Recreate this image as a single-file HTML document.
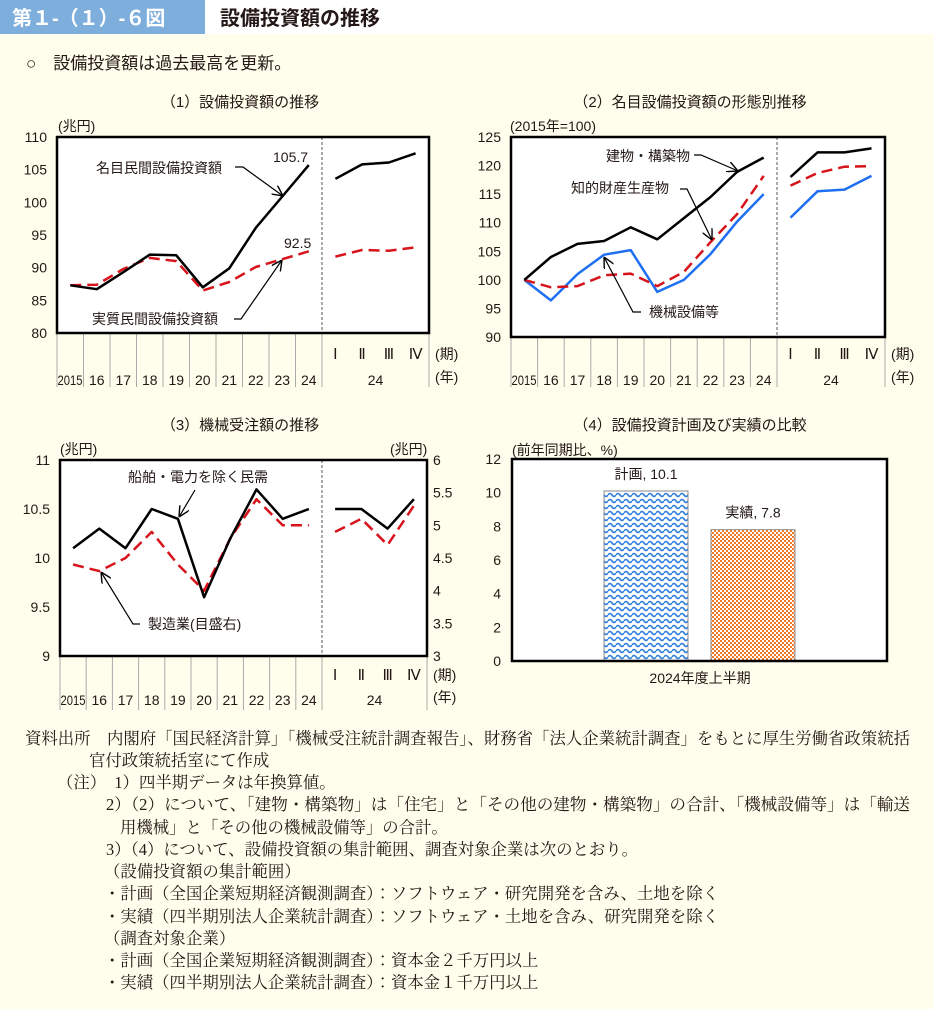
<!DOCTYPE html>
<html><head><meta charset="utf-8">
<style>
html,body{margin:0;padding:0;background:#fffdeb;}
svg{display:block;font-family:"Liberation Sans","Noto Sans CJK JP",sans-serif;}
.n{font-family:"Liberation Serif","Noto Serif CJK JP",serif;font-size:16.4px;fill:#231815;}
.t{font-size:14px;fill:#231815;}
.c{font-size:15px;fill:#231815;}
</style></head>
<body>
<svg id="s" width="933" height="1009" viewBox="0 0 933 1009" xmlns="http://www.w3.org/2000/svg">
<defs>
<pattern id="wave" width="8" height="6" patternUnits="userSpaceOnUse">
<rect width="8" height="6" fill="#ffffff"/>
<path d="M0 3 Q2 0 4 3 T8 3" fill="none" stroke="#2b7de0" stroke-width="1.6"/>
</pattern>
<pattern id="check" width="4" height="4" patternUnits="userSpaceOnUse">
<rect width="4" height="4" fill="#ffffff"/>
<rect width="2" height="2" fill="#f07a28"/><rect x="2" y="2" width="2" height="2" fill="#f07a28"/>
</pattern>
<marker id="ar" viewBox="0 0 10 10" refX="10" refY="5" markerWidth="9" markerHeight="9" orient="auto"><path d="M0 0 L10 5 L0 10" fill="none" stroke="#000" stroke-width="1.3"/></marker>
</defs>
<rect x="0" y="0" width="933" height="1009" fill="#fffdeb"/>
<rect x="0" y="0" width="205" height="34" fill="#7eaedc"/>
<rect x="205" y="0" width="728" height="34" fill="#ffffff"/>
<text x="12" y="25" font-size="20" font-weight="bold" fill="#ffffff">第１-（１）-６図</text>
<text x="220" y="25" font-size="20" font-weight="bold" fill="#231815">設備投資額の推移</text>
<text x="26" y="69" font-size="17" fill="#231815">○　設備投資額は過去最高を更新。</text>

<text x="240" y="107" text-anchor="middle" class="c">（1）設備投資額の推移</text>
<text x="690" y="107" text-anchor="middle" class="c">（2）名目設備投資額の形態別推移</text>
<text x="240" y="430" text-anchor="middle" class="c">（3）機械受注額の推移</text>
<text x="690" y="430" text-anchor="middle" class="c">（4）設備投資計画及び実績の比較</text>

<g id="g1"></g><g id="g2"></g><g id="g3"></g><g id="g4"></g>

<g class="n">
<text x="25" y="744" textLength="885" lengthAdjust="spacingAndGlyphs">資料出所　内閣府「国民経済計算」「機械受注統計調査報告」、財務省「法人企業統計調査」をもとに厚生労働省政策統括</text>
<text x="89" y="766">官付政策統括室にて作成</text>
<text x="57" y="788">（注）　1）四半期データは年換算値。</text>
<text x="106" y="810" textLength="804" lengthAdjust="spacingAndGlyphs">2）（2）について、「建物・構築物」は「住宅」と「その他の建物・構築物」の合計、「機械設備等」は「輸送</text>
<text x="120" y="833">用機械」と「その他の機械設備等」の合計。</text>
<text x="106" y="855">3）（4）について、設備投資額の集計範囲、調査対象企業は次のとおり。</text>
<text x="104" y="877">（設備投資額の集計範囲）</text>
<text x="104" y="899">・計画（全国企業短期経済観測調査）：ソフトウェア・研究開発を含み、土地を除く</text>
<text x="104" y="922">・実績（四半期別法人企業統計調査）：ソフトウェア・土地を含み、研究開発を除く</text>
<text x="104" y="944">（調査対象企業）</text>
<text x="104" y="966">・計画（全国企業短期経済観測調査）：資本金２千万円以上</text>
<text x="104" y="988">・実績（四半期別法人企業統計調査）：資本金１千万円以上</text>
</g>
</svg>
<script>
const years = ['2015','16','17','18','19','20','21','22','23','24'];
const quarters = ['Ⅰ','Ⅱ','Ⅲ','Ⅳ'];
// chart 1
const c1Nominal = [87.3,86.7,89.3,92.0,91.9,87.0,89.9,96.1,100.9,105.7];
const c1NominalQ = [103.6,105.8,106.1,107.5];
const c1Real = [87.3,87.4,89.8,91.5,91.0,86.5,87.8,90.1,91.3,92.5];
const c1RealQ = [91.7,92.7,92.6,93.1];
const c1Ticks = [80,85,90,95,100,105,110];
// chart 2
const c2Build = [100,104.0,106.3,106.8,109.2,107.1,110.8,114.5,118.9,121.4];
const c2BuildQ = [118.0,122.3,122.3,123.0];
const c2IP = [100,98.7,98.9,100.8,101.1,98.9,101.4,106.6,111.5,118.2];
const c2IPQ = [116.5,118.7,119.8,119.9];
const c2Mach = [100,96.4,101.0,104.4,105.2,97.9,100.0,104.5,110.2,115.0];
const c2MachQ = [110.9,115.5,115.8,118.2];
const c2Ticks = [90,95,100,105,110,115,120,125];
// chart 3
const c3Private = [10.1,10.3,10.1,10.5,10.4,9.6,10.2,10.7,10.4,10.5];
const c3PrivateQ = [10.5,10.5,10.3,10.6];
const c3Manu = [4.4,4.3,4.5,4.9,4.4,4.0,4.8,5.4,5.0,5.0];
const c3ManuQ = [4.9,5.1,4.7,5.3];
const c3TicksL = [9,9.5,10,10.5,11];
const c3TicksR = [3,3.5,4,4.5,5,5.5,6];
// chart 4
const c4Labels = ['計画','実績'];
const c4Values = [10.1,7.8];
const c4Ticks = [0,2,4,6,8,10,12];

const NS='http://www.w3.org/2000/svg';
function el(parent,tag,attrs,txt){const e=document.createElementNS(NS,tag);for(const k in attrs)e.setAttribute(k,attrs[k]);if(txt!==undefined)e.textContent=txt;parent.appendChild(e);return e;}

function frame(g,o){
  el(g,'rect',{x:o.L,y:o.T,width:o.R-o.L,height:o.B-o.T,fill:'#fff'});
  if(o.div){
    const d=el(g,'line',{x1:o.div,y1:o.T,x2:o.div,y2:o.B+(o.sepLen||0),stroke:'#555','stroke-width':1,'stroke-dasharray':'3 2'});
    
    
  }
}
function sepsAndLabels(g,o){
  const step=(o.div-o.L)/years.length;
  for(let i=0;i<=years.length;i++){
    el(g,'line',{x1:o.L+i*step,y1:o.B,x2:o.L+i*step,y2:o.B+o.sepLen,stroke:'#aaa','stroke-width':1});
  }
  el(g,'line',{x1:o.R,y1:o.B,x2:o.R,y2:o.B+o.sepLen,stroke:'#aaa','stroke-width':1});
  years.forEach((y,i)=>{
    const t=el(g,'text',{x:o.L+(i+0.5)*step,y:o.yRow,'text-anchor':'middle',class:'t','font-size':'14'},y);
    if(i===0){t.setAttribute('textLength','25');t.setAttribute('lengthAdjust','spacingAndGlyphs');t.setAttribute('x',o.L+0.5);t.setAttribute('text-anchor','start');}
    
    
  });
  const qs=(o.R-o.div)/4;
  quarters.forEach((q,i)=>{
    const t=el(g,'text',{x:o.div+(i+0.5)*qs,y:o.qRow,'text-anchor':'middle','font-family':'Liberation Serif,serif','font-size':'15',fill:'#231815'},q);
    
    
  });
  el(g,'text',{x:(o.div+o.R)/2,y:o.yRow,'text-anchor':'middle',class:'t'},'24');
  el(g,'text',{x:o.R+6,y:o.qRow,class:'t','font-size':'13'},'(期)');
  el(g,'text',{x:o.R+6,y:o.yRow-3,class:'t','font-size':'13'},'(年)');
}
function series(g,o,vals,qvals,yfn,style,name){
  const step=(o.div-o.L)/years.length, qs=(o.R-o.div)/4;
  const p1=vals.map((v,i)=>(o.L+(i+0.5)*step).toFixed(1)+','+yfn(v).toFixed(1)).join(' ');
  const p2=qvals.map((v,i)=>(o.div+(i+0.5)*qs).toFixed(1)+','+yfn(v).toFixed(1)).join(' ');
  [p1,p2].forEach((p,k)=>{
    const a=Object.assign({points:p,fill:'none','stroke-linejoin':'round'},style);
    const l=el(g,'polyline',a);
    
    
  });
}
function yTicks(g,ticks,yfn,x,anchor){
  ticks.forEach(v=>{
    const t=el(g,'text',{x:x,y:yfn(v)+5,'text-anchor':anchor,class:'t','font-size':'15'},String(v));
    
    
  });
}
function border(g,o){el(g,'rect',{x:o.L,y:o.T,width:o.R-o.L,height:o.B-o.T,fill:'none',stroke:'#000','stroke-width':2.5});}
function ann(g,x,y,txt,name,anchor){const t=el(g,'text',{x:x,y:y,class:'t','text-anchor':anchor||'start'},txt);return t;}
function arrow(g,x1,y1,x2,y2,x0){
  const pts=(x0!==undefined?x0+','+y1+' ':'')+x1+','+y1+' '+x2+','+y2;
  el(g,'polyline',{points:pts,fill:'none',stroke:'#000','stroke-width':1.2,'marker-end':'url(#ar)'});
}
const BLK={stroke:'#000','stroke-width':2.5};
const RED={stroke:'#d7141b','stroke-width':2.5,'stroke-dasharray':'11 6'};
const BLU={stroke:'#1f6ff2','stroke-width':2.5};

(function(){
  const g=document.getElementById('g1');
  
  
  const o={L:57,R:429,T:137,B:333,div:322,sepLen:54,qRow:359,yRow:385};
  const y=v=>o.B-(v-80)/30*(o.B-o.T);
  frame(g,o);sepsAndLabels(g,o);
  series(g,o,c1Real,c1RealQ,y,RED,'real-capex-line');
  series(g,o,c1Nominal,c1NominalQ,y,BLK,'nominal-capex-line');
  border(g,o);
  yTicks(g,c1Ticks,y,47,'end');
  ann(g,58,131,'(兆円)','y-axis-unit');
  ann(g,96,173,'名目民間設備投資額','nominal-label');
  arrow(g,243,167,283,196,235);
  ann(g,273,162,'105.7','nominal-2024-value').setAttribute('font-size','16');
  ann(g,284,248,'92.5','real-2024-value').setAttribute('font-size','16');
  ann(g,92,324,'実質民間設備投資額','real-label');
  arrow(g,241,319,282,260,234);
})();
(function(){
  const g=document.getElementById('g2');
  
  
  const o={L:511,R:885,T:137,B:337,div:777,sepLen:50,qRow:359,yRow:385};
  const y=v=>o.B-(v-90)/35*(o.B-o.T);
  frame(g,o);sepsAndLabels(g,o);
  series(g,o,c2Mach,c2MachQ,y,BLU,'machinery-line');
  series(g,o,c2IP,c2IPQ,y,RED,'ip-products-line');
  series(g,o,c2Build,c2BuildQ,y,BLK,'buildings-line');
  border(g,o);
  yTicks(g,c2Ticks,y,501,'end');
  ann(g,510,131,'(2015年=100)','y-axis-unit');
  ann(g,606,161,'建物・構築物','buildings-label');
  arrow(g,701,155,738,171,694);
  ann(g,571,193,'知的財産生産物','ip-label');
  arrow(g,687,189,712,240,680);
  ann(g,649,317,'機械設備等','machinery-label');
  arrow(g,633,312,604,257,641);
})();
(function(){
  const g=document.getElementById('g3');
  
  
  const o={L:60,R:427,T:460,B:656,div:322,sepLen:54,qRow:680,yRow:705};
  const yl=v=>o.B-(v-9)/2*(o.B-o.T);
  const yr=v=>o.B-(v-3)/3*(o.B-o.T);
  frame(g,o);sepsAndLabels(g,o);
  series(g,o,c3Manu,c3ManuQ,yr,RED,'manufacturing-line');
  series(g,o,c3Private,c3PrivateQ,yl,BLK,'private-demand-line');
  border(g,o);
  yTicks(g,c3TicksL,yl,50,'end');
  yTicks(g,c3TicksR,yr,433,'start');
  ann(g,60,454,'(兆円)','y-axis-unit-left');
  ann(g,390,454,'(兆円)','y-axis-unit-right');
  ann(g,128,482,'船舶・電力を除く民需','private-demand-label');
  arrow(g,195,490,179,517);
  ann(g,148,629,'製造業(目盛右)','manufacturing-label');
  arrow(g,133,624,101,572,140);
})();
(function(){
  const g=document.getElementById('g4');
  
  
  const o={L:512,R:887,T:459,B:661};
  const y=v=>o.B-v/12*(o.B-o.T);
  el(g,'rect',{x:o.L,y:o.T,width:o.R-o.L,height:o.B-o.T,fill:'#fff'});
  const bx=[604,711], fills=['url(#wave)','url(#check)'];
  c4Values.forEach((v,i)=>{
    const r=el(g,'rect',{x:bx[i],y:y(v),width:84,height:o.B-y(v),fill:fills[i],stroke:'#888','stroke-width':1});
    
    
    const t=el(g,'text',{x:bx[i]+42,y:y(v)-12,'text-anchor':'middle',class:'t','font-size':'15'},c4Labels[i]+', '+v);
    
    
  });
  border(g,o);
  yTicks(g,c4Ticks,y,501,'end');
  ann(g,512,455,'(前年同期比、%)','y-axis-unit');
  ann(g,700,683,'2024年度上半期','x-category-label','middle');
})();
</script>
</body></html>
